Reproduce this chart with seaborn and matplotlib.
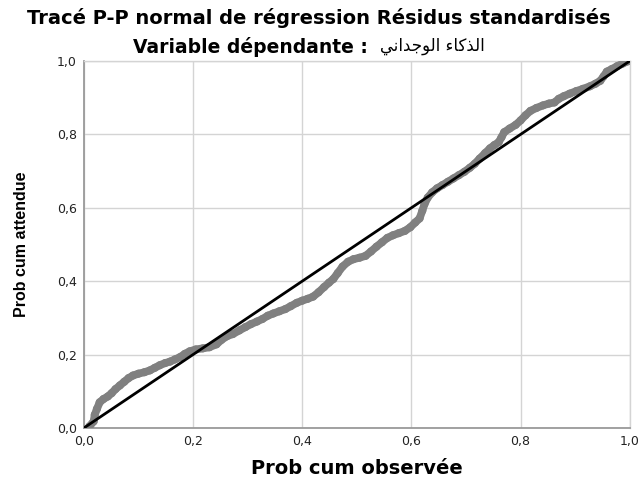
import numpy as np
import pandas as pd
import matplotlib
matplotlib.use("Agg")
import matplotlib.pyplot as plt
import seaborn as sns

# =========================================================
# Données lues sur le graphique P-P
# =========================================================

prob_obs = [0.010, 0.018, 0.020, 0.024, 0.029, 0.036, 0.044, 0.051, 0.058, 0.066,
            0.074, 0.082, 0.090, 0.100, 0.111, 0.121, 0.130, 0.139, 0.149, 0.158,
            0.167, 0.176, 0.185, 0.194, 0.205, 0.218, 0.230, 0.243, 0.252, 0.262,
            0.273, 0.285, 0.296, 0.306, 0.317, 0.327, 0.337, 0.347, 0.358, 0.369,
            0.379, 0.390, 0.400, 0.410, 0.420, 0.430, 0.440, 0.449, 0.457, 0.465,
            0.474, 0.484, 0.494, 0.505, 0.516, 0.526, 0.536, 0.546, 0.556, 0.566,
            0.577, 0.588, 0.598, 0.607, 0.615, 0.620, 0.624, 0.630, 0.638, 0.647,
            0.657, 0.667, 0.677, 0.687, 0.697, 0.707, 0.716, 0.725, 0.735, 0.744,
            0.752, 0.760, 0.765, 0.770, 0.780, 0.791, 0.800, 0.809, 0.818, 0.829,
            0.841, 0.852, 0.862, 0.870, 0.879, 0.890, 0.902, 0.914, 0.927, 0.937,
            0.946, 0.952, 0.958, 0.967, 0.977, 0.987, 0.996]

prob_att = [0.004, 0.018, 0.036, 0.052, 0.070, 0.079, 0.086, 0.095, 0.106, 0.116,
            0.126, 0.136, 0.143, 0.148, 0.152, 0.157, 0.164, 0.171, 0.177, 0.181,
            0.187, 0.193, 0.202, 0.209, 0.214, 0.217, 0.220, 0.228, 0.240, 0.250,
            0.256, 0.266, 0.275, 0.283, 0.290, 0.297, 0.306, 0.312, 0.318, 0.324,
            0.332, 0.341, 0.347, 0.352, 0.358, 0.370, 0.384, 0.396, 0.406, 0.422,
            0.440, 0.453, 0.460, 0.464, 0.469, 0.481, 0.494, 0.506, 0.518, 0.525,
            0.531, 0.537, 0.547, 0.560, 0.571, 0.592, 0.610, 0.628, 0.642, 0.653,
            0.662, 0.671, 0.680, 0.689, 0.698, 0.709, 0.720, 0.734, 0.749, 0.762,
            0.771, 0.779, 0.792, 0.806, 0.816, 0.826, 0.838, 0.852, 0.864, 0.872,
            0.879, 0.884, 0.887, 0.897, 0.904, 0.911, 0.918, 0.924, 0.931, 0.938,
            0.946, 0.958, 0.971, 0.978, 0.986, 0.993, 0.999]

# droite de référence
ref_x = [0.0, 1.0]
ref_y = [0.0, 1.0]

ticks = [0.0, 0.2, 0.4, 0.6, 0.8, 1.0]
tick_labels = ["0,0", "0,2", "0,4", "0,6", "0,8", "1,0"]

titre = "Tracé P-P normal de régression Résidus standardisés"
sous_titre = "Variable dépendante :"
variable_ar = "الذكاء الوجداني"

# =========================================================
# Mise en forme de l'arabe (matplotlib ne fait pas le shaping)
# =========================================================

# iso, fin, ini, med
formes = {
    "ا": ("\uFE8D", "\uFE8E", None, None),
    "ذ": ("\uFEAB", "\uFEAC", None, None),
    "و": ("\uFEED", "\uFEEE", None, None),
    "د": ("\uFEA9", "\uFEAA", None, None),
    "ء": ("\uFE80", None, None, None),
    "ل": ("\uFEDD", "\uFEDE", "\uFEDF", "\uFEE0"),
    "ك": ("\uFED9", "\uFEDA", "\uFEDB", "\uFEDC"),
    "ج": ("\uFE9D", "\uFE9E", "\uFE9F", "\uFEA0"),
    "ن": ("\uFEE5", "\uFEE6", "\uFEE7", "\uFEE8"),
    "ي": ("\uFEF1", "\uFEF2", "\uFEF3", "\uFEF4"),
}

def shape_ar(txt):
    out = []
    for i, ch in enumerate(txt):
        if ch not in formes:
            out.append(ch)
            continue
        f = formes[ch]
        prev = txt[i - 1] if i > 0 else " "
        nxt = txt[i + 1] if i < len(txt) - 1 else " "
        j_prev = prev in formes and formes[prev][2] is not None and f[1] is not None
        j_next = nxt in formes and formes[nxt][1] is not None and f[2] is not None
        if j_prev and j_next:
            out.append(f[3])
        elif j_prev:
            out.append(f[1])
        elif j_next:
            out.append(f[2])
        else:
            out.append(f[0])
    return "".join(reversed(out))

# =========================================================
# Graphique
# =========================================================

sns.set_style("white")
plt.rcParams["font.family"] = ["DejaVu Sans"]
plt.rcParams["text.color"] = "black"
plt.rcParams["axes.labelcolor"] = "black"

fig = plt.figure(figsize=(6.4, 4.78), dpi=100)
ax = fig.add_axes([0.131, 0.1046, 0.853, 0.7678])

df = pd.DataFrame({"obs": prob_obs, "att": prob_att})
sns.lineplot(data=df, x="obs", y="att", estimator=None, sort=False,
             color="#808080", lw=5.6, solid_capstyle="round",
             solid_joinstyle="round", ax=ax, zorder=3)
sns.scatterplot(data=df, x="obs", y="att", color="#808080", s=34,
                edgecolor="none", ax=ax, zorder=3)
sns.lineplot(x=ref_x, y=ref_y, color="black", lw=2.0, ax=ax, zorder=4)

ax.set_xlim(0, 1)
ax.set_ylim(0, 1)
ax.set_xticks(ticks)
ax.set_yticks(ticks)
ax.set_xticklabels(tick_labels)
ax.set_yticklabels(tick_labels)
ax.grid(True, color="#d4d4d4", lw=1.0)
ax.set_axisbelow(True)
ax.tick_params(axis="both", length=3, width=1, color="#999999",
               labelsize=9, labelcolor="#222222", pad=2, direction="out")

for side in ["left", "bottom"]:
    ax.spines[side].set_color("#9a9a9a")
    ax.spines[side].set_linewidth(1.3)
for side in ["top", "right"]:
    ax.spines[side].set_color("#d4d4d4")
    ax.spines[side].set_linewidth(1.0)

ax.set_xlabel("Prob cum observée", fontsize=14, fontweight="bold", labelpad=8)
ax.set_ylabel("Prob cum attendue", fontsize=11.5, fontweight="bold", labelpad=20,
              family=["Liberation Sans Narrow", "Liberation Sans", "DejaVu Sans"])

fig.text(0.498, 0.962, titre, ha="center", va="center",
         fontsize=14, fontweight="bold")
fig.text(0.575, 0.902, sous_titre, ha="right", va="center",
         fontsize=13.5, fontweight="bold")
fig.text(0.594, 0.904, shape_ar(variable_ar), ha="left", va="center",
         fontsize=12)

plt.savefig("out.png", dpi=100)
